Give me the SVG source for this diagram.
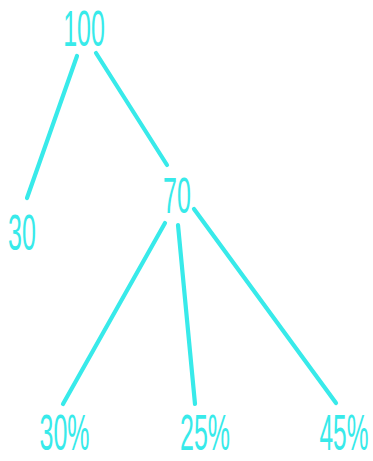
<svg xmlns="http://www.w3.org/2000/svg" width="373" height="461" viewBox="0 0 373 461">
<style>
.t{font-family:"Liberation Sans",Arial,sans-serif;font-size:50px;fill:#38eaea;text-anchor:middle}
.e{stroke:#38eaea;stroke-width:4.2;stroke-linecap:round;fill:none}
</style>
<rect width="373" height="461" fill="#ffffff"/>
<g id="connectors">
<line class="e" x1="77" y1="56" x2="27" y2="198"/>
<line class="e" x1="96" y1="53" x2="167" y2="165"/>
<line class="e" x1="165" y1="223" x2="63" y2="404"/>
<line class="e" x1="178" y1="225" x2="195" y2="404"/>
<line class="e" x1="194" y1="209" x2="336" y2="403"/>
</g>
<g id="n100"><text class="t" transform="translate(84,45.5) scale(0.5,1)">100</text></g>
<g id="n30"><text class="t" transform="translate(22,250) scale(0.5,1)">30</text></g>
<g id="n70"><text class="t" transform="translate(177,213) scale(0.5,1)">70</text></g>
<g id="p30"><text class="t" transform="translate(64.5,450) scale(0.5,1)">30%</text></g>
<g id="p25"><text class="t" transform="translate(205,450) scale(0.5,1)">25%</text></g>
<g id="p45"><text class="t" transform="translate(344,450) scale(0.49,1)">45%</text></g>
</svg>
